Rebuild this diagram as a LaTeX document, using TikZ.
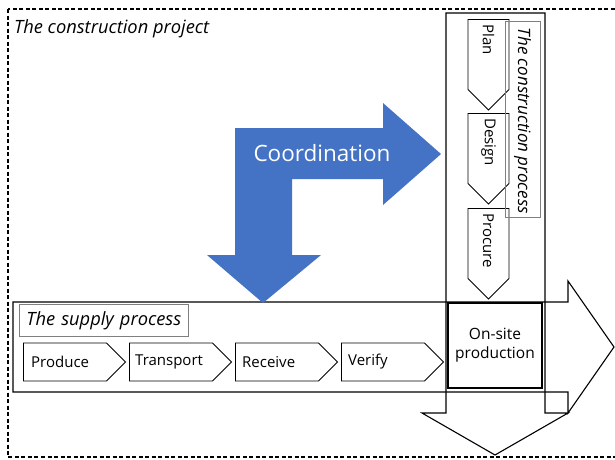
\documentclass[tikz,border=0pt]{standalone}
\usepackage{fontspec}
\setmainfont{Open Sans}
\usetikzlibrary{shapes.symbols}

\definecolor{coordblue}{HTML}{4472C4}

\begin{document}
\begin{tikzpicture}[x=1pt,y=-1pt,
    bigarrow/.style={draw,line width=1.1pt,line join=miter},
    hchev/.style={signal,signal to=east,draw,line width=.9pt,minimum width=102pt,minimum height=38pt,inner sep=0pt,anchor=west},
    vchev/.style={signal,signal to=south,draw,line width=.9pt,minimum width=41pt,minimum height=70pt,inner sep=0pt,anchor=north},
    chevtext/.style={font=\fontsize{15}{18}\selectfont,inner sep=0pt},
    titletext/.style={font=\fontsize{18.3}{22}\selectfont\itshape}]

        \clip (0,0) rectangle (615,459);

        \draw[dashed,dash pattern=on 4pt off 2.5pt,line width=1.2pt] (8,9) rectangle (640,457);
        \node[titletext,anchor=base west,inner sep=0pt] (project) at (14,33) {The construction project};

        \draw[bigarrow] (446,13) -- (545,13) -- (545,413) -- (568,413) -- (495,455) -- (422,413) -- (446,413) -- cycle;
        \draw[bigarrow] (13,302) -- (568,302) -- (568,281) -- (614,347) -- (568,413) -- (568,392) -- (13,392) -- cycle;

        \fill[coordblue] (235,128) -- (383,128) -- (383,103) -- (441,154) -- (383,205) -- (383,179) -- (292,179)
          -- (292,255) -- (321,255) -- (263,303) -- (207,255) -- (235,255) -- cycle;
        \node[text=white,font=\fontsize{22.5}{26}\selectfont] (coord) at (322,153) {Coordination};

        \begin{scope}[every node/.style={hchev}]
          \node (produce)   at (23,362)  {};
          \node (transport) at (129,362) {};
          \node (receive)   at (235,362) {};
          \node (verify)    at (341,362) {};
        \end{scope}

        \begin{scope}[every node/.style={chevtext,anchor=west}]
          \node at ([xshift=8pt]produce.west)   {Produce};
          \node at ([xshift=6pt]transport.west) {Transport};
          \node at ([xshift=7pt]receive.west)   {Receive};
          \node at ([xshift=7pt]verify.west)    {Verify};
        \end{scope}

        \begin{scope}[every node/.style={vchev}]
          \node (plan)    at (488.5,19)  {};
          \node (design)  at (488.5,113) {};
          \node (procure) at (488.5,208) {};
        \end{scope}

        \begin{scope}[every node/.style={chevtext,rotate=-90,anchor=west}]
          \node at ([yshift=-5pt]plan.north)    {Plan};
          \node at ([yshift=-5pt]design.north)  {Design};
          \node at ([yshift=-5pt]procure.north) {Procure};
        \end{scope}

        \node[draw=gray,line width=.8pt,titletext,anchor=north west,inner xsep=7pt,inner ysep=0pt,
              text width=155pt,minimum height=32pt,align=left] (supply) at (19,304) {The supply process};
        \node[draw=gray,line width=.8pt,rotate=-90,minimum width=196pt,minimum height=35pt] (process) at (522.5,119) {};
        \node[titletext,font=\fontsize{17}{20}\selectfont\itshape,rotate=-90,anchor=west,inner sep=0pt]
              at ([yshift=-7pt]process.west) {The construction process};

        \node[draw,line width=1.6pt,minimum width=94pt,minimum height=85pt,align=center,
              font=\fontsize{15.5}{19}\selectfont] (onsite) at (495,345.5) {On-site\\production};

      \end{tikzpicture}
\end{document}
